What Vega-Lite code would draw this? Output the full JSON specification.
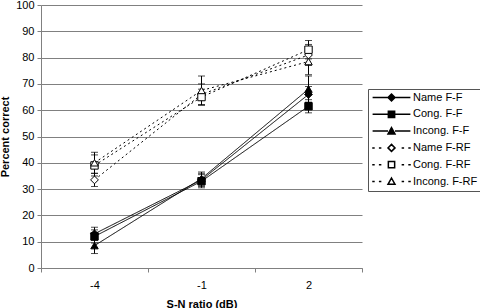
{
  "$schema": "https://vega.github.io/schema/vega-lite/v6.json",
  "width": 321,
  "height": 263,
  "autosize": {"type": "none"},
  "padding": {"left": 41, "top": 5, "right": 118, "bottom": 40},
  "background": "white",
  "config": {
    "font": "Liberation Sans",
    "view": {"stroke": null},
    "axis": {
      "labelFont": "Liberation Sans",
      "labelFontSize": 11,
      "labelColor": "black",
      "titleFont": "Liberation Sans",
      "titleFontSize": 11,
      "titleFontWeight": "bold",
      "titleColor": "black",
      "domainColor": "#808080",
      "tickColor": "#808080",
      "gridColor": "#808080",
      "gridOpacity": 1,
      "tickSize": 4
    },
    "axisY": {
      "title": "Percent correct",
      "grid": true,
      "labelPadding": 3,
      "titlePadding": 5,
      "labelOverlap": false
    }
  },
  "data": {
    "values": [
      {"series": "Name F-F", "type": "F-F", "snr": "-4", "pct": 13, "lo": 10.5, "hi": 15.5},
      {"series": "Name F-F", "type": "F-F", "snr": "-1", "pct": 33.5, "lo": 31, "hi": 36},
      {"series": "Name F-F", "type": "F-F", "snr": "2", "pct": 66, "lo": 63, "hi": 69},
      {"series": "Cong. F-F", "type": "F-F", "snr": "-4", "pct": 12, "lo": 9.5, "hi": 14.5},
      {"series": "Cong. F-F", "type": "F-F", "snr": "-1", "pct": 33, "lo": 30.5, "hi": 35.5},
      {"series": "Cong. F-F", "type": "F-F", "snr": "2", "pct": 61.5, "lo": 59, "hi": 64},
      {"series": "Incong. F-F", "type": "F-F", "snr": "-4", "pct": 8.5, "lo": 5.5, "hi": 11.5},
      {"series": "Incong. F-F", "type": "F-F", "snr": "-1", "pct": 34, "lo": 31.5, "hi": 36.5},
      {"series": "Incong. F-F", "type": "F-F", "snr": "2", "pct": 68, "lo": 63, "hi": 73},
      {"series": "Name F-RF", "type": "F-RF", "snr": "-4", "pct": 33.5, "lo": 31, "hi": 36},
      {"series": "Name F-RF", "type": "F-RF", "snr": "-1", "pct": 66, "lo": 62, "hi": 70},
      {"series": "Name F-RF", "type": "F-RF", "snr": "2", "pct": 81, "lo": 77, "hi": 85},
      {"series": "Cong. F-RF", "type": "F-RF", "snr": "-4", "pct": 39, "lo": 35, "hi": 43},
      {"series": "Cong. F-RF", "type": "F-RF", "snr": "-1", "pct": 65, "lo": 62, "hi": 68},
      {"series": "Cong. F-RF", "type": "F-RF", "snr": "2", "pct": 83, "lo": 79.5, "hi": 86.5},
      {"series": "Incong. F-RF", "type": "F-RF", "snr": "-4", "pct": 40, "lo": 36, "hi": 44},
      {"series": "Incong. F-RF", "type": "F-RF", "snr": "-1", "pct": 67.5, "lo": 62, "hi": 73},
      {"series": "Incong. F-RF", "type": "F-RF", "snr": "2", "pct": 78.5, "lo": 73.5, "hi": 83.5}
    ]
  },
  "encoding": {
    "x": {
      "field": "snr",
      "type": "ordinal",
      "sort": ["-4", "-1", "2"],
      "scale": {"type": "band", "paddingInner": 0, "paddingOuter": 0},
      "axis": {
        "title": "S-N ratio (dB)",
        "labelAngle": 0,
        "tickBand": "extent",
        "grid": false,
        "labelPadding": 7,
        "titlePadding": 8
      }
    }
  },
  "layer": [
    {
      "mark": {"type": "line", "color": "black", "strokeWidth": 1},
      "encoding": {
        "y": {
          "field": "pct",
          "type": "quantitative",
          "scale": {"domain": [0, 100], "nice": false},
          "axis": {"title": "Percent correct", "values": [0, 10, 20, 30, 40, 50, 60, 70, 80, 90, 100]}
        },
        "detail": {"field": "series"},
        "strokeDash": {
          "field": "type",
          "type": "nominal",
          "scale": {"domain": ["F-F", "F-RF"], "range": [[1, 0], [2, 3]]},
          "legend": null
        }
      }
    },
    {
      "mark": {"type": "rule", "color": "black", "strokeWidth": 1},
      "encoding": {
        "y": {"field": "lo", "type": "quantitative", "axis": {"title": "Percent correct", "values": [0, 10, 20, 30, 40, 50, 60, 70, 80, 90, 100]}},
        "y2": {"field": "hi"}
      }
    },
    {
      "mark": {"type": "tick", "color": "black", "thickness": 1, "size": 7},
      "encoding": {"y": {"field": "hi", "type": "quantitative", "axis": {"title": "Percent correct", "values": [0, 10, 20, 30, 40, 50, 60, 70, 80, 90, 100]}}}
    },
    {
      "mark": {"type": "tick", "color": "black", "thickness": 1, "size": 7},
      "encoding": {"y": {"field": "lo", "type": "quantitative", "axis": {"title": "Percent correct", "values": [0, 10, 20, 30, 40, 50, 60, 70, 80, 90, 100]}}}
    },
    {
      "transform": [{"filter": {"field": "series", "oneOf": ["Name F-F", "Name F-RF"]}}],
      "mark": {"type": "point", "shape": "diamond", "filled": true, "stroke": "black", "strokeWidth": 1, "size": 60, "opacity": 1},
      "encoding": {
        "y": {"field": "pct", "type": "quantitative", "axis": {"title": "Percent correct", "values": [0, 10, 20, 30, 40, 50, 60, 70, 80, 90, 100]}},
        "fill": {"condition": {"test": "datum.type === 'F-F'", "value": "black"}, "value": "white"}
      }
    },
    {
      "transform": [{"filter": {"field": "series", "oneOf": ["Cong. F-F", "Cong. F-RF"]}}],
      "mark": {"type": "point", "shape": "square", "filled": true, "stroke": "black", "strokeWidth": 1, "size": 55, "opacity": 1},
      "encoding": {
        "y": {"field": "pct", "type": "quantitative", "axis": {"title": "Percent correct", "values": [0, 10, 20, 30, 40, 50, 60, 70, 80, 90, 100]}},
        "fill": {"condition": {"test": "datum.type === 'F-F'", "value": "black"}, "value": "white"}
      }
    },
    {
      "transform": [{"filter": {"field": "series", "oneOf": ["Incong. F-F", "Incong. F-RF"]}}],
      "mark": {"type": "point", "shape": "triangle-up", "filled": true, "stroke": "black", "strokeWidth": 1, "size": 55, "opacity": 1},
      "encoding": {
        "y": {"field": "pct", "type": "quantitative", "axis": {"title": "Percent correct", "values": [0, 10, 20, 30, 40, 50, 60, 70, 80, 90, 100]}},
        "fill": {"condition": {"test": "datum.type === 'F-F'", "value": "black"}, "value": "white"}
      }
    },
    {
      "mark": {"type": "point", "filled": true, "stroke": "black", "strokeWidth": 1, "size": 0, "opacity": 1},
      "encoding": {
        "y": {"field": "pct", "type": "quantitative", "axis": {"title": "Percent correct", "values": [0, 10, 20, 30, 40, 50, 60, 70, 80, 90, 100]}},
        "shape": {
          "field": "series",
          "type": "nominal",
          "scale": {
            "domain": ["Name F-F", "Cong. F-F", "Incong. F-F", "Name F-RF", "Cong. F-RF", "Incong. F-RF"],
            "range": [
              "M-5.4,0H-1M1,0H5.4M0,-1L1,0L0,1L-1,0Z",
              "M-5.4,0H-0.9M0.9,0H5.4M-0.9,-0.9H0.9V0.9H-0.9Z",
              "M-5.4,0H-1M1,0H5.4M0,-1L1,0.8H-1Z",
              "M-5.5,0H-4.8M-3.6,0H-2.9M2.9,0H3.6M4.8,0H5.5M0,-1L1,0L0,1L-1,0Z",
              "M-5.5,0H-4.8M-3.6,0H-2.9M2.9,0H3.6M4.8,0H5.5M-0.9,-0.9H0.9V0.9H-0.9Z",
              "M-5.5,0H-4.8M-3.6,0H-2.9M2.9,0H3.6M4.8,0H5.5M0,-1L1,0.8H-1Z"
            ]
          },
          "legend": {
            "title": null,
            "orient": "none",
            "legendX": 327,
            "legendY": 84,
            "symbolSize": 49,
            "symbolOffset": 15,
            "labelOffset": 16,
            "labelFont": "Liberation Sans",
            "labelFontSize": 11,
            "labelColor": "black",
            "strokeColor": "#555555",
            "padding": 3,
            "rowPadding": 3.8,
            "encode": {
              "symbols": {
                "update": {
                  "stroke": {"value": "black"},
                  "strokeWidth": {"value": 1},
                  "shape": {"scale": "shape", "field": "value"},
                  "size": {"value": 49}
                }
              }
            }
          }
        },
        "fill": {
          "field": "series",
          "type": "nominal",
          "scale": {
            "domain": ["Name F-F", "Cong. F-F", "Incong. F-F", "Name F-RF", "Cong. F-RF", "Incong. F-RF"],
            "range": ["black", "black", "black", "white", "white", "white"]
          },
          "legend": {
            "title": null,
            "orient": "none",
            "legendX": 327,
            "legendY": 84,
            "symbolSize": 49,
            "symbolOffset": 15,
            "labelOffset": 16,
            "labelFont": "Liberation Sans",
            "labelFontSize": 11,
            "labelColor": "black",
            "strokeColor": "#555555",
            "padding": 3,
            "rowPadding": 3.8,
            "encode": {
              "symbols": {
                "update": {
                  "stroke": {"value": "black"},
                  "strokeWidth": {"value": 1},
                  "shape": {"scale": "shape", "field": "value"},
                  "size": {"value": 49}
                }
              }
            }
          }
        }
      }
    }
  ]
}
